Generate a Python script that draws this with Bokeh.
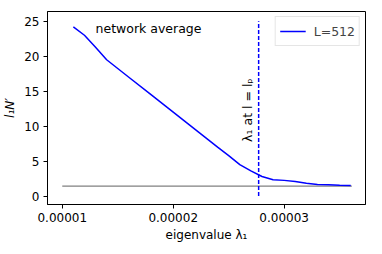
from bokeh.plotting import figure
from bokeh.models import Range1d, FixedTicker, PrintfTickFormatter, Legend, LegendItem, Label
from bokeh.embed import file_html
from bokeh.resources import INLINE

# data
eig = [1.10e-5, 1.20e-5, 1.30e-5, 1.40e-5, 1.60e-5, 1.80e-5, 2.00e-5, 2.20e-5,
       2.40e-5, 2.50e-5, 2.60e-5, 2.70e-5, 2.80e-5, 2.90e-5, 3.00e-5, 3.10e-5,
       3.20e-5, 3.30e-5, 3.40e-5, 3.50e-5, 3.60e-5]
l1n = [24.2, 23.0, 21.3, 19.5, 17.0, 14.5, 12.0, 9.5,
       7.0, 5.8, 4.5, 3.6, 2.8, 2.35, 2.25, 2.1,
       1.85, 1.65, 1.62, 1.55, 1.5]
avg_x = [1.0e-5, 3.61e-5]
avg_y = [1.43, 1.43]
lp_x = [2.77e-5, 2.77e-5]
lp_y = [0.0, 25.0]
x_ticks = [1e-5, 2e-5, 3e-5]
y_ticks = [0, 5, 10, 15, 20, 25]
series_label = "L=512"

FONT = "DejaVu Sans"
BLUE = "#0000ff"

p = figure(frame_width=318, frame_height=193, output_backend="svg",
           toolbar_location=None, x_range=Range1d(0.867e-5, 3.733e-5),
           y_range=Range1d(-1.2, 26.4))
p.min_border_left = 43
p.min_border_top = 11
p.min_border_right = 5
p.min_border_bottom = 34
p.background_fill_color = "white"
p.border_fill_color = "white"
p.outline_line_color = "black"
p.outline_line_width = 1
p.xgrid.visible = False
p.ygrid.visible = False

for ax in (p.xaxis[0], p.yaxis[0]):
    ax.axis_line_color = "black"
    ax.major_tick_line_color = "black"
    ax.major_tick_out = 4
    ax.major_tick_in = 0
    ax.minor_tick_line_color = None
    ax.major_label_text_font = FONT
    ax.major_label_text_font_size = "12px"
    ax.major_label_text_color = "black"
    ax.axis_label_text_font = FONT
    ax.axis_label_text_font_size = "12px"
    ax.axis_label_text_color = "black"
    ax.axis_label_text_font_style = "normal"
    ax.major_label_standoff = 4

p.xaxis.ticker = FixedTicker(ticks=x_ticks)
p.xaxis.formatter = PrintfTickFormatter(format="%.5f")
p.xaxis.axis_label = "eigenvalue λ₁"
p.xaxis.axis_label_standoff = 3
p.yaxis.ticker = FixedTicker(ticks=y_ticks)
p.yaxis.axis_label = "l₁N′"
p.yaxis.axis_label_text_font_style = "italic"
p.yaxis.axis_label_standoff = 4

p.line(avg_x, avg_y, line_color="#808080", line_width=1.2)
r = p.line(eig, l1n, line_color=BLUE, line_width=1.5)
p.line(lp_x, lp_y, line_color=BLUE, line_width=1.5, line_dash="4 2")

p.add_layout(Label(x=1.30e-5, y=23.9, text="network average", text_font=FONT,
                   text_font_size="12.5px", text_align="left", text_baseline="middle",
                   text_color="black"))
p.add_layout(Label(x=2.67e-5, y=12.3, text="λ₁ at l = lₚ", angle=90, angle_units="deg",
                   text_font=FONT, text_font_size="12.5px", text_align="center",
                   text_baseline="middle", text_color="black"))

legend = Legend(items=[LegendItem(label=series_label, renderers=[r])],
                location="top_right")
legend.margin = 5
legend.padding = 4
legend.glyph_width = 26
legend.label_standoff = 8
legend.label_text_font = FONT
legend.label_text_font_size = "12.5px"
legend.border_line_color = "#cccccc"
legend.border_line_width = 1
legend.background_fill_alpha = 0.8
p.add_layout(legend)

open("out.html", "w").write(file_html(p, INLINE))
